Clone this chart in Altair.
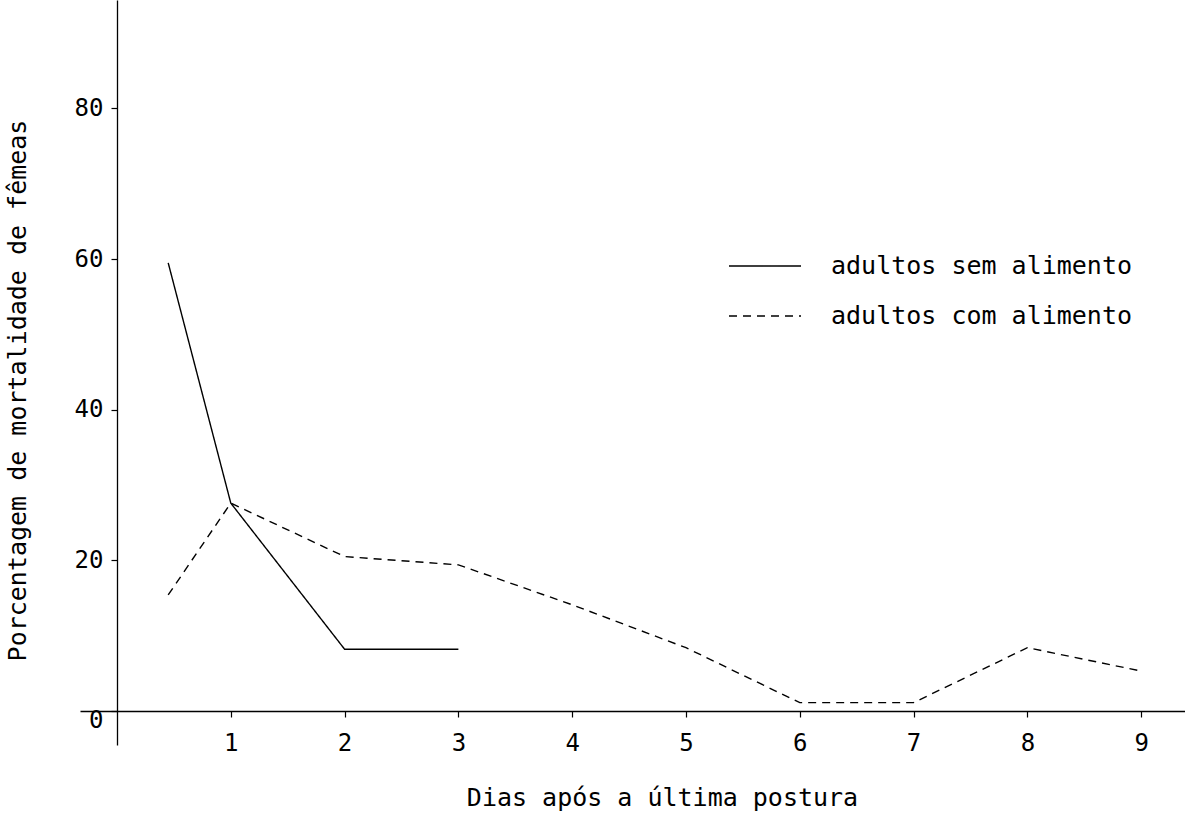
import altair as alt
import pandas as pd

# data
dias_sem = [0.45, 1, 2, 3]
mort_sem = [59.5, 27.6, 8.2, 8.2]
dias_com = [0.45, 1, 2, 3, 4, 5, 6, 7, 8, 9]
mort_com = [15.4, 27.6, 20.5, 19.4, 14.1, 8.4, 1.1, 1.1, 8.4, 5.3]
series = ["adultos sem alimento", "adultos com alimento"]
x_ticks = [1, 2, 3, 4, 5, 6, 7, 8, 9]
y_ticks = [0, 20, 40, 60, 80]

rows = []
for d, m in zip(dias_sem, mort_sem):
    rows.append({"dia": d, "mort": m, "serie": series[0]})
for d, m in zip(dias_com, mort_com):
    rows.append({"dia": d, "mort": m, "serie": series[1]})
df = pd.DataFrame(rows)

FONT = "DejaVu Sans Mono"
FS = 25
FL = 24

chart = alt.Chart(df).mark_line(color="black", strokeWidth=1.4).encode(
    x=alt.X("dia:Q",
            scale=alt.Scale(domain=[-0.325, 9.385], nice=False, zero=False),
            axis=alt.Axis(values=x_ticks, offset=-34, grid=False,
                          domainColor="black", domainWidth=1.3,
                          tickColor="black", tickSize=6, tickWidth=1.2,
                          labelFont=FONT, labelFontSize=FL, labelColor="black",
                          labelPadding=14,
                          title="Dias após a última postura",
                          titleFont=FONT, titleFontSize=FS, titleFontWeight="normal",
                          titleColor="black", titleX=582, titleY=86,
                          titleAlign="center", titleBaseline="middle")),
    y=alt.Y("mort:Q",
            scale=alt.Scale(domain=[-4.52, 94.4], nice=False, zero=False),
            axis=alt.Axis(values=y_ticks, offset=-37, grid=False,
                          domainColor="black", domainWidth=1.3,
                          tickColor="black", tickSize=6, tickWidth=1.2,
                          labelFont=FONT, labelFontSize=FL, labelColor="black",
                          labelPadding=8,
                          labelOffset=alt.expr("datum.value == 0 ? 10 : 0"),
                          title="Porcentagem de mortalidade de fêmeas",
                          titleFont=FONT, titleFontSize=FS, titleFontWeight="normal",
                          titleColor="black", titleX=-100, titleY=390,
                          titleAngle=270, titleAlign="center",
                          titleBaseline="middle")),
    strokeDash=alt.StrokeDash("serie:N",
                              scale=alt.Scale(domain=series, range=[[1, 0], [8, 6]]),
                              legend=alt.Legend(title=None, orient="none",
                                                legendX=648, legendY=229,
                                                symbolType="stroke",
                                                symbolSize=5184,
                                                symbolStrokeWidth=1.4,
                                                symbolStrokeColor="black",
                                                labelFont=FONT, labelFontSize=FS,
                                                labelColor="black", labelLimit=0,
                                                labelOffset=29, rowPadding=-24)),
).properties(
    width=1105, height=745,
    padding={"left": 80, "top": 0, "right": 0, "bottom": 69},
    autosize=alt.AutoSizeParams(type="none"),
    background="white",
).configure_view(stroke=None)

chart.save("out.html", embed_options={"renderer": "svg", "actions": False})
